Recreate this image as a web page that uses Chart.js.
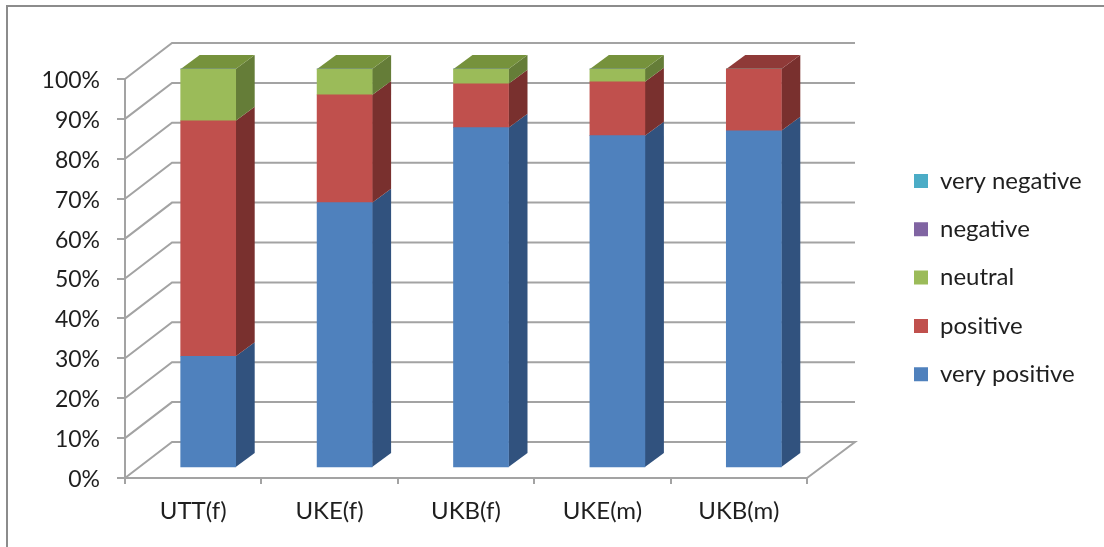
<!DOCTYPE html>
<html>
<head>
<meta charset="utf-8">
<title>Chart</title>
<script src="https://cdn.jsdelivr.net/npm/chart.js@4"></script>
<style>
  html, body { margin: 0; padding: 0; background: #fff; }
  #wrap { position: relative; width: 1104px; height: 547px; overflow: hidden; }
  #frame { position: absolute; left: 6px; top: 5px; width: 1098px; height: 542px;
           border-left: 2px solid #8c8c8c; border-top: 2px solid #8c8c8c; box-sizing: border-box; }
  canvas { position: absolute; left: 0; top: 0; filter: blur(0.45px); }
</style>
</head>
<body>
<div id="wrap">
  <div id="frame"></div>
  <canvas id="chart" width="1104" height="547"></canvas>
</div>
<script>
const categories = ['UTT(f)', 'UKE(f)', 'UKB(f)', 'UKE(m)', 'UKB(m)'];
const veryPositive = [28, 66.5, 85.3, 83.3, 84.5];
const positive = [59, 27, 11, 13.5, 15.5];
const neutral = [13, 6.5, 3.7, 3.2, 0];
const negative = [0, 0, 0, 0, 0];
const veryNegative = [0, 0, 0, 0, 0];
const yTicks = [0, 10, 20, 30, 40, 50, 60, 70, 80, 90, 100];

const textColor = '#1f1f1f';
const gridColor = '#a3a3a3';

// 3D look: back wall offset, bar offset from the front plane, bar depth
const wall = { dx: 47, dy: -36 };
const shift = { dx: 15, dy: -10 };
const depth = { dx: 19, dy: -14 };

const sideColors = ['#31527e', '#79302e', '#657d38', '#55426f', '#2f7186'];
const topColors = ['#3c6598', '#8f3a38', '#76923c', '#66508a', '#3a8aa0'];

const fake3d = {
    id: 'fake3d',
    afterLayout(chart) {
        // legend stays out of the way of the floor on the right
        const lg = chart.legend;
        const w = lg.right - lg.left;
        lg.left = 889.7;
        lg.right = 889.7 + w;
        lg.top = 144.7;
        lg.bottom = 420;
    },
    beforeDatasetsDraw(chart) {
        const c = chart.ctx;
        const y = chart.scales.y;
        const a = chart.chartArea;

        // grid lines over left wall and back wall
        c.save();
        c.strokeStyle = gridColor;
        c.lineWidth = 2;
        yTicks.forEach(v => {
            const py = y.getPixelForValue(v);
            c.beginPath();
            c.moveTo(a.left, py);
            c.lineTo(a.left + wall.dx, py + wall.dy);
            c.lineTo(a.right + wall.dx + 1, py + wall.dy);
            if (v === 0) {
                c.lineTo(a.right, py);
            }
            c.stroke();
        });
        c.restore();

        c.save();
        c.translate(shift.dx, shift.dy);

        // side faces and top faces of the bars
        chart.data.datasets.forEach((ds, i) => {
            chart.getDatasetMeta(i).data.forEach((bar, j) => {
                if (ds.data[j] === 0) return;
                const right = bar.x + bar.width / 2;
                const left = bar.x - bar.width / 2;
                c.fillStyle = sideColors[i];
                c.beginPath();
                c.moveTo(right, bar.y);
                c.lineTo(right + depth.dx, bar.y + depth.dy);
                c.lineTo(right + depth.dx, bar.base + depth.dy);
                c.lineTo(right, bar.base);
                c.closePath();
                c.fill();

                const isTop = chart.data.datasets.slice(i + 1).every(o => o.data[j] === 0);
                if (isTop) {
                    c.fillStyle = topColors[i];
                    c.beginPath();
                    c.moveTo(left, bar.y);
                    c.lineTo(left + depth.dx, bar.y + depth.dy);
                    c.lineTo(right + depth.dx, bar.y + depth.dy);
                    c.lineTo(right, bar.y);
                    c.closePath();
                    c.fill();
                }
            });
        });
    },
    afterDatasetsDraw(chart) {
        chart.ctx.restore();
    }
};

new Chart(document.getElementById('chart'), {
    type: 'bar',
    data: {
        labels: categories,
        datasets: [
            { label: 'very positive', data: veryPositive, backgroundColor: '#4f81bd' },
            { label: 'positive', data: positive, backgroundColor: '#c0504d' },
            { label: 'neutral', data: neutral, backgroundColor: '#9bbb59' },
            { label: 'negative', data: negative, backgroundColor: '#8064a2' },
            { label: 'very negative', data: veryNegative, backgroundColor: '#4bacc6' }
        ]
    },
    options: {
        responsive: false,
        animation: false,
        clip: false,
        barThickness: 55,
        layout: { padding: { top: 79, right: 97, left: 0, bottom: 0 } },
        scales: {
            x: {
                stacked: true,
                afterFit(scale) { scale.height = 69; },
                grid: { drawOnChartArea: false, color: gridColor, lineWidth: 2, tickLength: 6 },
                border: { color: gridColor, width: 2 },
                ticks: { color: textColor, font: { family: 'Lato', size: 24 }, padding: 13, maxRotation: 0 }
            },
            y: {
                stacked: true,
                min: 0,
                max: 100,
                afterFit(scale) { scale.width = 125; },
                grid: { drawOnChartArea: false, color: gridColor, lineWidth: 2, tickLength: 8 },
                border: { color: gridColor, width: 2 },
                ticks: {
                    color: textColor,
                    font: { family: 'Lato', size: 23 },
                    padding: 17,
                    labelOffset: 1.5,
                    stepSize: 10,
                    callback: v => v + '%'
                }
            }
        },
        plugins: {
            tooltip: { enabled: false },
            legend: {
                position: 'right',
                align: 'start',
                reverse: true,
                maxWidth: 200,
                labels: {
                    color: textColor,
                    font: { family: 'Lato', size: 24 },
                    boxWidth: 14,
                    boxHeight: 14,
                    padding: 24.3
                }
            }
        }
    },
    plugins: [fake3d]
});
</script>
</body>
</html>
